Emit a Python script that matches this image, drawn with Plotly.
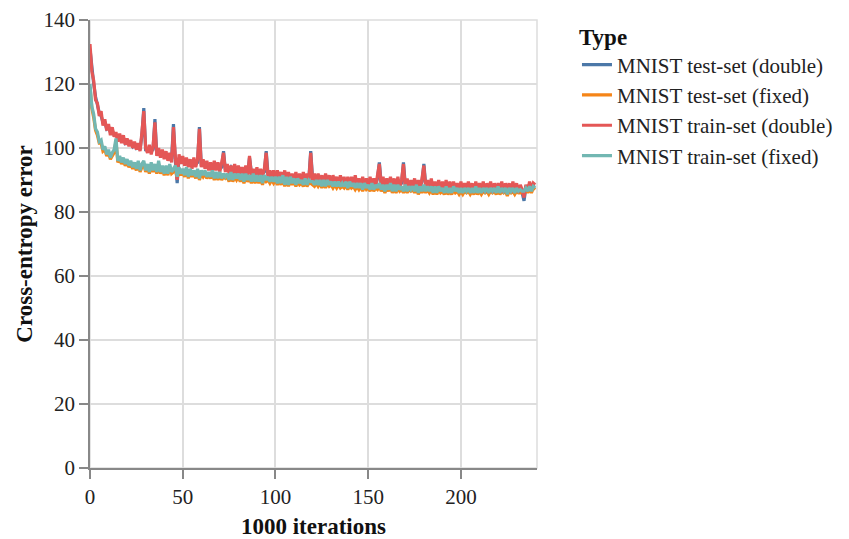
import plotly.graph_objects as go

# x: thousands of iterations
iterations = list(range(0, 241))

test_double = [
    131, 125, 120, 116, 113, 111, 110, 108, 108, 106, 106.5, 105, 105.5, 104, 104, 103, 103.5, 102, 103, 101.5,
    102, 101.5, 101.5, 100.5, 101.5, 100, 100.5, 99.5, 104, 112.5, 99.5, 99.5, 100, 99, 99.5, 109, 98, 99, 98, 98.5,
    97.5, 98, 97, 97.5, 96.5, 107.5, 96, 89, 97, 95.5, 96.5, 95.5, 96, 95, 95.5, 94.5, 96, 95, 95.5, 106.5,
    94.5, 95.5, 94.5, 95, 94, 94.5, 93.5, 95, 94, 94.5, 93.5, 94, 99, 93, 94, 93, 94, 93, 94, 92.5,
    93.5, 92.5, 93.5, 92, 93.5, 92, 97, 92.5, 92.5, 92, 93, 91.5, 92.5, 92, 92.5, 99, 91.5, 92, 91.5, 92,
    91, 92, 91.5, 91.5, 91, 92, 90.5, 91.5, 91, 91, 90.5, 91.5, 90.5, 91, 90, 91.5, 90.5, 91, 90.5, 99,
    90.5, 91, 90, 91, 90, 90.5, 89.5, 91, 90, 90.5, 89.5, 90.5, 90, 90, 89.5, 90.5, 89.5, 90, 89, 90,
    89.5, 90, 89, 90.5, 89, 89.5, 88.5, 90, 89, 89.5, 88.5, 90, 89, 89.5, 88.5, 90.5, 95.5, 89, 90, 88.5,
    89.5, 89, 90, 88.5, 89.5, 88, 90, 88.5, 89, 95.5, 88.5, 89.5, 88, 89, 88.5, 89.5, 88, 89, 88, 89.5,
    95, 88.5, 89, 88, 89.5, 88, 88.5, 88, 89, 87.5, 88.5, 88, 89, 87.5, 88.5, 87.5, 88.5, 88, 88, 87.5,
    88.5, 87.5, 88, 88, 88.5, 87.5, 88, 87, 88.5, 87.5, 88, 87.5, 88.5, 87, 88, 87.5, 88.5, 87, 88, 87.5,
    88, 87.5, 88.5, 87, 88, 87.5, 88, 87, 88.5, 87.5, 88, 87, 87.5, 86, 83.5, 87.5, 87.5, 88.5, 86.5, 88, 88,
]

test_fixed = [
    119, 112.5, 109.5, 105.5, 104, 101.5, 101.5, 99, 99.5, 97.5, 98.5, 96.5, 97.5, 98.5, 102, 95.5, 96.5, 95, 96, 94.5,
    95.5, 94, 95, 93.5, 94.5, 93, 95, 92.5, 94, 95, 92.5, 94, 92, 94.5, 92.5, 94, 92, 95, 92, 93.5,
    91.5, 93.5, 91.5, 94, 92, 92.5, 93.5, 90.5, 93, 91.5, 92.5, 91, 93, 90.5, 92.5, 91, 92, 90.5, 92.5, 90,
    92, 91, 92, 90.5, 91.5, 90.5, 92, 90, 91.5, 90, 91.5, 90, 91, 90.5, 91, 89.5, 91.5, 89.5, 91, 90,
    91, 89.5, 91, 89, 91, 89.5, 90.5, 89, 91, 89, 90.5, 89, 90.5, 88.5, 90.5, 89.5, 90, 89, 90, 89,
    90, 88.5, 90, 88.5, 90.5, 88, 90, 88, 90, 88.5, 89.5, 88, 89.5, 88.5, 89, 88, 89.5, 88, 89, 89,
    88.5, 88, 89, 88, 89, 87.5, 89, 87.5, 89, 88, 88.5, 87.5, 88.5, 87.5, 88.5, 87.5, 88, 87.5, 88.5, 87,
    88.5, 87.5, 88, 87, 88, 87, 88, 86.5, 88, 87, 87.5, 86.5, 88, 86.5, 87.5, 87, 88, 86.5, 87.5, 86,
    87.5, 86.5, 88, 86, 87.5, 86, 87.5, 86.5, 87, 86, 87.5, 86, 87, 86.5, 87, 86, 87.5, 85.5, 87, 86,
    87.5, 86, 87, 86, 87, 85.5, 87, 85.5, 87, 86, 86.5, 85.5, 87, 85.5, 86.5, 85.5, 87, 86, 86.5, 85.5,
    86.5, 85.5, 86.5, 86, 86.5, 85.5, 86.5, 85.5, 87, 85.5, 86.5, 85.5, 86.5, 86, 86.5, 85.5, 86.5, 86, 86.5, 85.5,
    87, 85.5, 86.5, 86, 86.5, 85, 86.5, 86, 86.5, 85.5, 86.5, 86, 86, 86, 86, 87, 86, 87.5, 86, 87.5, 87,
]

train_double = [
    132.5, 124, 121, 115, 114, 110, 111.5, 107, 109, 105.5, 107.5, 104, 106.5, 103.5, 105, 102, 104.5, 101.5, 104, 101,
    103, 100.5, 102.5, 100, 102, 99.5, 101.5, 99, 105, 111.5, 100, 98.5, 101, 98, 100.5, 108, 97.5, 100, 97, 99.5,
    96.5, 99, 96, 98.5, 95.5, 106.5, 97.5, 90, 98, 95, 97.5, 94.5, 97, 94, 96.5, 93.5, 97, 94, 96.5, 106,
    94, 96.5, 93.5, 96, 93, 95.5, 92.5, 96, 93, 95.5, 92.5, 95, 98.5, 92.5, 95, 92, 94.5, 92, 95, 91.5,
    94.5, 92, 94, 91.5, 94.5, 91, 97.5, 91.5, 93.5, 91, 94, 90.5, 93.5, 91, 93.5, 98.5, 90.5, 93, 90.5, 93,
    90, 93, 90.5, 92.5, 90, 93, 89.5, 92.5, 90, 92, 89.5, 92.5, 89.5, 92, 89, 92.5, 89.5, 92, 90, 98.5,
    89.5, 92, 89, 92, 89, 91.5, 88.5, 92, 89, 91.5, 88.5, 91.5, 89, 91, 88.5, 91.5, 88.5, 91, 88, 91,
    88.5, 91, 88, 91.5, 88, 90.5, 87.5, 91, 88, 90.5, 87.5, 91, 88, 90.5, 87.5, 91.5, 95, 88, 91, 87.5,
    90.5, 88, 91, 87.5, 90.5, 87, 91, 87.5, 90, 95, 87.5, 90.5, 87, 90, 87.5, 90.5, 87, 90, 87, 90.5,
    94.5, 87.5, 90, 87, 90.5, 87, 89.5, 87, 90, 86.5, 89.5, 87, 90, 86.5, 89.5, 86.5, 89.5, 87, 89, 86.5,
    89.5, 86.5, 89, 87, 89.5, 86.5, 89, 86, 89.5, 86.5, 89, 86.5, 89.5, 86, 89, 86.5, 89.5, 86, 89, 86.5,
    89, 86.5, 89.5, 86, 89, 86.5, 89, 86, 89.5, 86.5, 89, 86, 88.5, 87, 84.5, 88.5, 86.5, 89.5, 87, 89, 88.5,
]

train_fixed = [
    120, 113, 110.5, 106, 105, 102, 102.5, 99.5, 100.5, 98, 99.5, 97, 98.5, 99.5, 103, 96, 97.5, 95.5, 97, 95,
    96.5, 94.5, 96, 94, 95.5, 93.5, 96, 93, 95, 96, 93, 95, 92.5, 95.5, 93, 95, 92.5, 96, 92.5, 94.5,
    92, 94.5, 92, 95, 92.5, 93.5, 94.5, 91, 94, 92, 93.5, 91.5, 94, 91, 93.5, 91.5, 93, 91, 93.5, 90.5,
    93, 91.5, 93, 91, 92.5, 91, 93, 90.5, 92.5, 90.5, 92.5, 90.5, 92, 91, 92, 90, 92.5, 90, 92, 90.5,
    92, 90, 92, 89.5, 92, 90, 91.5, 89.5, 92, 89.5, 91.5, 89.5, 91.5, 89, 91.5, 90, 91, 89.5, 91, 89.5,
    91, 89, 91, 89, 91.5, 88.5, 91, 88.5, 91, 89, 90.5, 88.5, 90.5, 89, 90, 88.5, 90.5, 88.5, 90, 89.5,
    89.5, 88.5, 90, 88.5, 90, 88, 90, 88, 90, 88.5, 89.5, 88, 89.5, 88, 89.5, 88, 89, 88, 89.5, 87.5,
    89.5, 88, 89, 87.5, 89, 87.5, 89, 87, 89, 87.5, 88.5, 87, 89, 87, 88.5, 87.5, 89, 87, 88.5, 86.5,
    88.5, 87, 89, 86.5, 88.5, 86.5, 88.5, 87, 88, 86.5, 88.5, 86.5, 88, 87, 88, 86.5, 88.5, 86, 88, 86.5,
    88.5, 86.5, 88, 86.5, 88, 86, 88, 86, 88, 86.5, 87.5, 86, 88, 86, 87.5, 86, 88, 86.5, 87.5, 86,
    87.5, 86, 87.5, 86.5, 87.5, 86, 87.5, 86, 88, 86, 87.5, 86, 87.5, 86.5, 87.5, 86, 87.5, 86.5, 87.5, 86,
    88, 86, 87.5, 86.5, 87.5, 85.5, 87.5, 86.5, 87.5, 86, 87.5, 86.5, 87, 86.5, 86.5, 87.5, 86.5, 88, 86.5, 88, 87.5,
]

series_names = [
    "MNIST test-set (double)",
    "MNIST test-set (fixed)",
    "MNIST train-set (double)",
    "MNIST train-set (fixed)",
]
series_values = [test_double, test_fixed, train_double, train_fixed]
series_colors = ["#4c78a8", "#f58518", "#e45756", "#72b7b2"]

x_ticks = [0, 50, 100, 150, 200]
y_ticks = [0, 20, 40, 60, 80, 100, 120, 140]

FONT = "Liberation Serif, Times New Roman, serif"

fig = go.Figure()
for i, (name, vals, col) in enumerate(zip(series_names, series_values, series_colors)):
    fig.add_trace(go.Scatter(
        x=iterations, y=vals, mode="lines", name=name,
        line=dict(color=col, width=3.2),
    ))

fig.update_layout(
    width=849, height=539,
    margin=dict(l=90, r=311, t=20, b=71),
    paper_bgcolor="white", plot_bgcolor="white",
    font=dict(family=FONT, color="#222", size=21),
    showlegend=True,
    legend=dict(
        x=1.087, xanchor="left", y=1.012, yanchor="top",
        title=dict(text="<b>Type</b>", font=dict(size=23, family=FONT, color="#111")),
        font=dict(size=21, family=FONT, color="#222"),
        tracegroupgap=0,
        itemwidth=30,
        bgcolor="rgba(0,0,0,0)",
    ),
    xaxis=dict(
        range=[0, 241], tickvals=x_ticks, ticktext=[str(v) for v in x_ticks],
        showgrid=True, gridcolor="#dddddd", gridwidth=1.5,
        showline=True, linecolor="#888888", linewidth=1.5,
        ticks="outside", ticklen=9, tickwidth=1.5, tickcolor="#888888",
        zeroline=False, automargin=False,
        tickfont=dict(size=21, family=FONT, color="#222"),
        title=dict(text="<b>1000 iterations</b>", font=dict(size=23, family=FONT, color="#111"), standoff=14),
    ),
    yaxis=dict(
        range=[0, 140], tickvals=y_ticks, ticktext=[str(v) for v in y_ticks],
        showgrid=True, gridcolor="#dddddd", gridwidth=1.5,
        showline=True, linecolor="#888888", linewidth=1.5,
        ticks="outside", ticklen=9, tickwidth=1.5, tickcolor="#888888",
        zeroline=False, automargin=False,
        tickfont=dict(size=21, family=FONT, color="#222"),
        title=dict(text="<b>Cross-entropy error</b>", font=dict(size=23, family=FONT, color="#111"), standoff=4),
    ),
    shapes=[dict(type="rect", xref="paper", yref="paper", x0=0, x1=1, y0=0, y1=1,
                 line=dict(color="#dddddd", width=1.5), layer="below")],
)

fig.write_html("out.html")
